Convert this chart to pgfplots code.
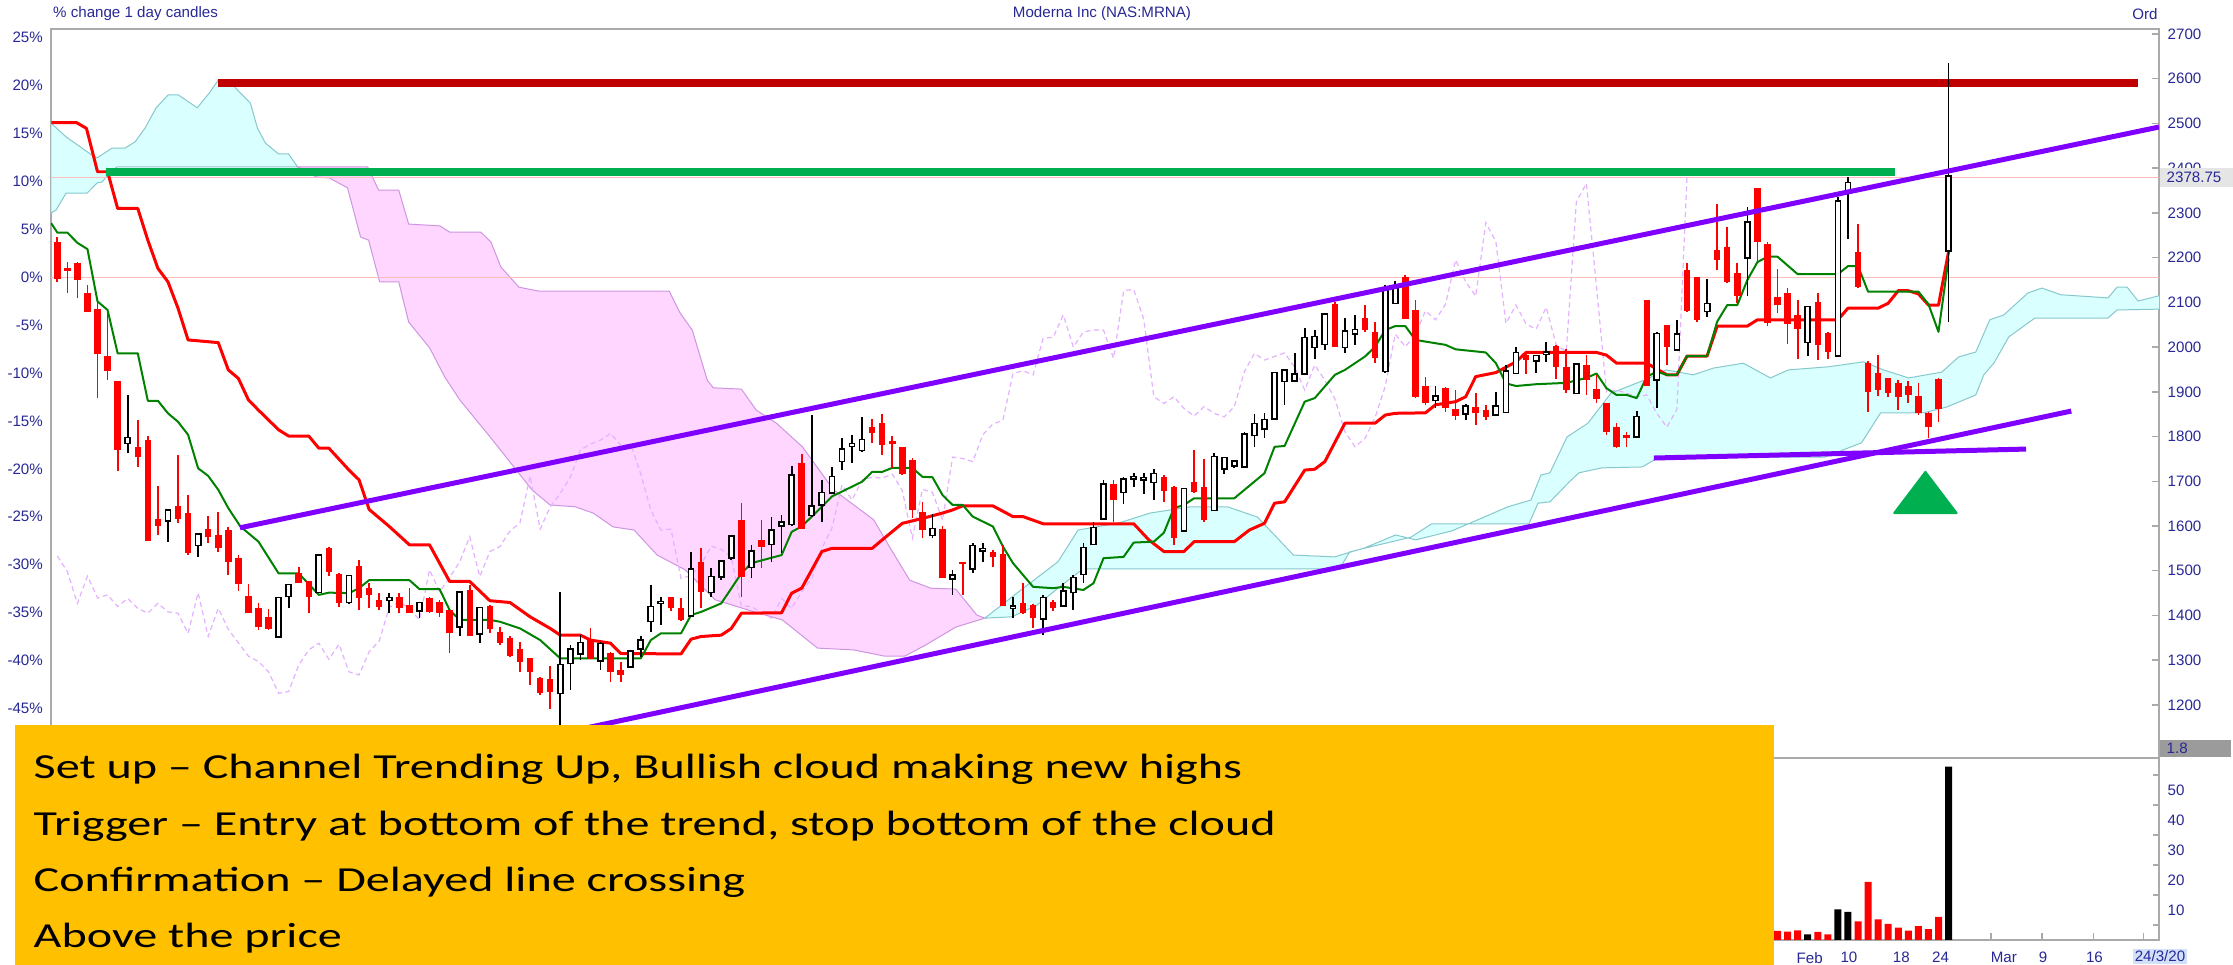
\documentclass[border=0pt]{standalone}
\usepackage{fontspec}
\setmainfont{Liberation Sans}
\newfontfamily\carlito{Carlito}
\usepackage{graphicx}
\usepackage{pgfplots}
\pgfplotsset{compat=1.18}
\usepackage{pgfplotstable}
\definecolor{tickblue}{RGB}{40,40,150}
\definecolor{candlered}{RGB}{255,0,0}
\definecolor{tenkan}{RGB}{0,130,0}
\definecolor{cyanfill}{RGB}{217,255,255}
\definecolor{cyanedge}{RGB}{135,200,205}
\definecolor{pinkfill}{RGB}{255,214,255}
\definecolor{pinkedge}{RGB}{205,150,225}
\definecolor{chikou}{RGB}{228,178,255}
\definecolor{violet}{RGB}{128,0,255}
\definecolor{darkred}{RGB}{192,0,0}
\definecolor{sgreen}{RGB}{0,176,80}
\definecolor{gold}{RGB}{255,192,0}
\definecolor{framegray}{RGB}{170,170,170}
\definecolor{pinkline}{RGB}{255,190,190}
\definecolor{boxgray}{RGB}{155,155,155}
\definecolor{datebox}{RGB}{210,225,250}
\newcommand\tf{\fontsize{4.3}{5}\selectfont}

\pgfplotstableread{
i O H L C
7 1786 1893 1764 1796
11 1613 1637 1565 1634
14 1558 1585 1531 1581
22 1353 1442 1351 1438
23 1444 1470 1416 1467
26 1453 1535 1450 1533
29 1431 1491 1426 1488
33 1435 1450 1405 1438
36 1412 1431 1394 1427
40 1376 1453 1353 1451
42 1360 1420 1339 1416
50 1227 1453 1144 1289
51 1294 1334 1233 1323
52 1315 1356 1300 1338
54 1300 1341 1278 1336
57 1286 1323 1282 1319
58 1327 1353 1308 1343
59 1388 1468 1364 1418
60 1428 1442 1379 1430
63 1401 1543 1399 1502
65 1453 1506 1441 1485
66 1488 1524 1479 1520
67 1530 1580 1524 1576
69 1509 1558 1483 1543
71 1560 1621 1520 1589
72 1602 1625 1539 1607
73 1605 1734 1599 1712
75 1625 1848 1621 1643
76 1649 1703 1610 1673
77 1675 1733 1673 1709
78 1746 1796 1725 1770
79 1779 1804 1740 1783
80 1770 1844 1766 1792
87 1580 1627 1573 1593
89 1483 1502 1446 1489
91 1506 1561 1494 1555
92 1546 1563 1520 1548
95 1418 1442 1394 1420
98 1394 1446 1356 1438
100 1423 1472 1420 1453
101 1453 1491 1412 1483
102 1493 1561 1472 1550
103 1560 1610 1558 1595
104 1617 1703 1613 1692
106 1677 1710 1649 1703
107 1707 1718 1687 1709
108 1705 1718 1672 1707
109 1699 1727 1658 1716
112 1591 1685 1587 1682
115 1636 1764 1634 1754
116 1729 1755 1716 1751
117 1736 1748 1729 1744
118 1734 1811 1733 1804
119 1804 1850 1777 1828
120 1818 1852 1796 1836
121 1841 1945 1839 1941
122 1925 1950 1871 1947
123 1926 1986 1923 1938
124 1941 2042 1940 2020
125 2001 2038 1973 2022
126 2007 2076 1993 2072
128 2001 2064 1987 2034
129 2031 2072 2005 2038
132 1947 2139 1943 2126
133 2099 2148 2098 2129
137 1882 1912 1863 1889
140 1852 1873 1836 1867
143 1850 1900 1848 1867
144 1856 1960 1853 1945
145 1943 2001 1941 1986
147 1971 1980 1943 1979
148 1985 2012 1967 1987
151 1898 1964 1897 1960
157 1801 1858 1796 1843
159 1928 2034 1863 2029
161 1995 2061 1994 2027
164 2081 2152 2068 2096
168 2201 2314 2114 2278
174 2012 2090 1979 2089
177 1982 2336 1980 2325
178 2351 2381 2241 2366
188 2216 2636 2057 2381
}\up

\pgfplotstableread{
i O H L C
0 2236 2247 2146 2152
1 2177 2191 2120 2170
2 2189 2191 2109 2150
3 2122 2139 2078 2078
4 2085 2101 1886 1985
5 1980 2076 1926 1947
6 1925 1925 1724 1770
8 1776 1836 1733 1754
9 1792 1801 1567 1567
10 1615 1690 1580 1600
12 1645 1759 1607 1616
13 1630 1669 1535 1539
15 1593 1622 1563 1575
16 1580 1632 1541 1550
17 1591 1597 1490 1519
18 1528 1535 1455 1470
19 1444 1470 1405 1405
20 1417 1427 1368 1375
21 1397 1414 1368 1370
24 1494 1509 1472 1472
25 1476 1478 1405 1441
27 1550 1552 1488 1498
28 1493 1496 1418 1427
30 1511 1524 1412 1439
31 1461 1472 1416 1446
32 1435 1450 1412 1420
34 1442 1450 1405 1416
35 1423 1461 1405 1405
37 1438 1442 1405 1408
38 1429 1435 1396 1405
39 1412 1416 1315 1360
41 1457 1468 1353 1353
43 1421 1423 1360 1369
44 1364 1375 1334 1339
45 1349 1353 1308 1309
46 1324 1341 1274 1297
47 1304 1304 1245 1274
48 1261 1263 1222 1226
49 1257 1286 1192 1230
53 1347 1371 1302 1302
55 1315 1319 1252 1274
56 1278 1297 1252 1267
61 1441 1442 1410 1416
62 1416 1438 1388 1390
64 1520 1550 1416 1453
68 1613 1651 1442 1487
70 1569 1613 1506 1554
74 1740 1761 1593 1593
81 1821 1839 1785 1807
82 1830 1850 1759 1781
83 1789 1801 1729 1783
84 1776 1777 1714 1716
85 1748 1751 1617 1636
86 1632 1654 1573 1591
88 1593 1599 1483 1483
90 1519 1520 1446 1514
93 1543 1546 1509 1531
94 1537 1558 1421 1421
96 1427 1472 1403 1406
97 1423 1425 1371 1394
99 1431 1435 1409 1416
105 1695 1703 1610 1658
110 1709 1714 1654 1679
111 1687 1690 1558 1573
113 1699 1770 1673 1675
114 1687 1749 1610 1613
127 2096 2101 2000 2000
130 2064 2094 2034 2038
131 2034 2055 1964 1975
134 2157 2161 2062 2062
135 2083 2105 1886 1889
136 1912 1934 1871 1874
138 1908 1910 1856 1863
139 1861 1904 1836 1846
141 1865 1898 1826 1852
142 1859 1871 1836 1844
146 1982 1986 1940 1971
149 2003 2005 1928 1955
150 1956 1995 1898 1904
152 1960 1982 1893 1926
153 1906 1938 1875 1884
154 1874 1876 1804 1811
155 1822 1831 1774 1777
156 1804 1811 1777 1796
158 2105 2105 1912 1912
160 2049 2049 1960 2001
162 2172 2189 2079 2081
163 2156 2156 2057 2061
165 2216 2321 2172 2195
166 2223 2268 2143 2146
167 2166 2189 2098 2114
169 2355 2355 2189 2236
170 2230 2236 2047 2053
171 2111 2174 2076 2094
172 2120 2131 2008 2052
173 2072 2105 1973 2040
175 2101 2120 1971 2005
176 2031 2034 1973 1990
179 2213 2275 2131 2135
180 1965 1970 1856 1900
181 1943 1982 1891 1904
182 1930 1932 1888 1897
183 1920 1926 1859 1889
184 1913 1925 1876 1893
185 1891 1919 1848 1852
186 1853 1856 1796 1821
187 1928 1930 1833 1861
}\down

\pgfplotstableread{
x y
0 1533
1 1498
2 1427
3 1488
4 1439
5 1446
6 1420
7 1438
8 1416
9 1405
10 1427
11 1408
12 1405
13 1360
14 1451
15 1353
16 1416
17 1369
18 1339
19 1309
20 1297
21 1274
22 1226
23 1230
24 1289
25 1323
26 1338
27 1302
28 1336
29 1274
30 1267
31 1319
32 1343
33 1418
34 1430
35 1416
36 1390
37 1502
38 1453
39 1485
40 1520
41 1576
42 1487
43 1543
44 1554
45 1589
46 1607
47 1712
48 1593
49 1643
50 1673
51 1709
52 1770
53 1783
54 1792
55 1807
56 1781
57 1783
58 1716
59 1636
60 1591
61 1593
62 1483
63 1489
64 1514
65 1555
66 1548
67 1531
68 1421
69 1420
70 1406
71 1394
72 1438
73 1416
74 1453
75 1483
76 1550
77 1595
78 1692
79 1658
80 1703
81 1709
82 1707
83 1716
84 1679
85 1573
86 1682
87 1675
88 1613
89 1754
90 1751
91 1744
92 1804
93 1828
94 1836
95 1941
96 1947
97 1938
98 2020
99 2022
100 2072
101 2000
102 2034
103 2038
104 2038
105 1975
106 2126
107 2129
108 2062
109 1889
110 1874
111 1889
112 1863
113 1846
114 1867
115 1852
116 1844
117 1867
118 1945
119 1986
120 1971
121 1979
122 1987
123 1955
124 1904
125 1960
126 1926
127 1884
128 1811
129 1777
130 1796
131 1843
132 1912
133 2029
134 2001
135 2027
136 2081
137 2061
138 2096
139 2195
140 2146
141 2114
142 2278
143 2236
144 2053
145 2094
146 2052
147 2040
148 2089
149 2005
150 1990
151 2325
152 2366
153 2135
154 1900
155 1904
156 1897
157 1889
158 1893
159 1852
160 1821
161 1861
162 2381
}\chik

\pgfplotstableread{
i v
171 3.0
172 2.8
173 3.2
175 2.7
176 1.9
179 6.2
180 19.4
181 6.9
182 5.4
183 4.1
184 3.1
185 4.6
186 3.6
187 7.7
}\voldown

\pgfplotstableread{
i v
174 1.9
177 10.2
178 9.4
188 57.8
}\volup

\begin{document}
\begin{tikzpicture}[x=1cm,y=1cm]
\fill[white] (0,0) rectangle (22.33,9.65);
\path[use as bounding box] (0,0) rectangle (22.33,9.65);

% percent scale (left)
\begin{axis}[at={(0.51cm,2.07cm)}, anchor=south west, scale only axis,
  width=21.08cm, height=7.29cm, xmin=-0.626, xmax=208.92,
  ymin=-50.18, ymax=25.92, hide x axis, axis y line*=left,
  y axis line style={draw=none}, ytick style={draw=none},
  ytick={-45,-40,-35,-30,-25,-20,-15,-10,-5,0,5,10,15,20,25},
  yticklabels={-45\%,-40\%,-35\%,-30\%,-25\%,-20\%,-15\%,-10\%,-5\%,0\%,5\%,10\%,15\%,20\%,25\%},
  yticklabel style={font=\tf, text=tickblue, anchor=east, inner sep=0pt, xshift=-0.075cm}]
\end{axis}

% price panel
\begin{axis}[at={(0.51cm,2.07cm)}, anchor=south west, scale only axis,
  width=21.08cm, height=7.29cm, xmin=-0.626, xmax=208.92,
  ymin=1081.4, ymax=2711.2,
  axis line style={draw=framegray, line width=0.02cm},
  xtick=\empty, ytick={1200,1300,...,2700}, ytick pos=right,
  tick align=inside, major tick length=0.07cm,
  ytick style={draw=framegray, line width=0.015cm},
  yticklabel style={font=\tf, text=tickblue, anchor=west, inner sep=0pt, xshift=0.08cm,
    /pgf/number format/1000 sep={}, /pgf/number format/assume math mode=true}]

% cloud
\addplot[fill=cyanfill, draw=cyanedge, line width=0.01cm] coordinates {
(-0.63,2501) (0.87,2470) (3.46,2429) (3.96,2423) (5.45,2445) (6.74,2445) (7.74,2459) (8.73,2490) (9.83,2535) (11.03,2564) (12.02,2564) (13.91,2535) (15.11,2568) (16.0,2597) (17.0,2597) (18.2,2568) (19.19,2546) (19.89,2490) (20.69,2456) (21.98,2432) (22.98,2432) (23.88,2403) (5.96,2403) (5.25,2391) (4.45,2369) (3.96,2367) (2.96,2344) (0.87,2344) (-0.13,2306) (-0.63,2300)} -- cycle;
\addplot[fill=pinkfill, draw=pinkedge, line width=0.01cm] coordinates {
(23.88,2403) (30.85,2403) (31.94,2351) (33.94,2351) (34.93,2275) (38.02,2271) (39.01,2257) (42.1,2257) (43.1,2235) (44.1,2179) (45.89,2134) (47.88,2125) (60.83,2125) (61.92,2076) (63.12,2038) (64.61,1926) (65.21,1909) (68.0,1906) (69.49,1859) (71.48,1830) (74.07,1777) (77.16,1681) (81.15,1614) (82.74,1553) (84.73,1479) (86.82,1461) (89.31,1459) (91.4,1401) (92.2,1394) (89.31,1374) (86.33,1334) (84.24,1309) (82.25,1309) (79.16,1323) (75.57,1327) (72.08,1390) (69.0,1410) (65.4,1435) (62.42,1502) (59.63,1535) (57.34,1591) (55.25,1598) (53.26,1629) (51.47,1643) (48.98,1647) (47.18,1681) (43.1,1797) (40.01,1882) (38.52,1933) (37.02,1998) (34.93,2056) (33.94,2146) (32.04,2146) (30.95,2239) (30.15,2246) (28.85,2356) (27.06,2378) (25.77,2380)} -- cycle;
\addplot[fill=cyanfill, draw=cyanedge, line width=0.01cm] coordinates {
(92.2,1394) (95.39,1450) (99.47,1520) (101.47,1591) (105.55,1607) (108.64,1629) (112.72,1643) (116.31,1643) (119.3,1620) (122.88,1535) (126.96,1531) (129.95,1551) (133.04,1580) (135.03,1569) (138.62,1589) (141.21,1614) (144.2,1643) (146.49,1658) (147.48,1714) (148.38,1719) (150.07,1799) (152.16,1830) (154.45,1897) (157.74,1926) (159.93,1949) (162.62,1938) (164.61,1953) (167.6,1964) (170.29,1931) (172.08,1949) (176.06,1956) (179.55,1967) (181.54,1949) (184.03,1931) (187.32,1944) (189.01,1978) (190.71,1989) (192.1,2061) (193.5,2072) (195.89,2121) (197.28,2132) (199.17,2117) (203.86,2110) (204.75,2134) (205.75,2134) (206.84,2103) (209.33,2117)
(209.33,2085) (204.75,2083) (203.86,2065) (196.59,2065) (194.0,2023) (192.5,1964) (191.5,1938) (190.71,1893) (187.82,1866) (185.53,1853) (181.25,1853) (179.35,1786) (175.67,1754) (159.24,1754) (157.54,1732) (153.56,1730) (151.27,1719) (150.27,1698) (148.38,1654) (147.19,1651) (146.29,1605) (136.63,1605) (134.54,1575) (130.45,1553) (128.46,1542) (127.46,1504) (101.96,1504) (99.87,1468) (97.38,1423) (94.89,1397)} -- cycle;

% reference lines
\addplot[pinkline, line width=0.015cm] coordinates {(-0.63,2156) (209.33,2156)};
\addplot[pinkline, line width=0.015cm] coordinates {(-0.63,2378.75) (209.33,2378.75)};

% lagging line
\addplot[chikou, line width=0.012cm, dash pattern=on 0.05cm off 0.035cm] table[x=x,y=y] {\chik};

% kijun and tenkan
\addplot[candlered, line width=0.03cm, line join=round] coordinates {
(-0.6,2502) (1.9,2502) (2.9,2489) (4,2392) (5,2392) (6,2310) (8,2310) (9,2239) (10,2176) (11,2146) (12,2087) (13,2016) (16,2010) (17,1949) (18,1930) (19,1882) (20,1859) (22,1815) (23,1801) (25,1801) (26,1774) (27,1774) (29,1725) (30,1703) (31,1637) (33,1599) (35,1558) (37,1558) (39,1476) (41,1476) (43,1433) (45,1429) (47,1397) (49,1371) (50,1356) (52,1356) (53,1345) (55,1338) (56,1315) (62,1314) (63,1347) (64,1353) (66,1356) (67,1371) (68,1405) (72,1406) (73,1450) (74,1461) (76,1543) (77,1550) (81,1550) (82,1569) (84,1606) (86,1617) (88,1629) (89,1636) (90,1645) (93,1645) (95,1621) (96,1621) (98,1605) (107,1605) (108.5,1569) (110,1543) (112,1543) (113,1565) (117,1565) (118.5,1591) (120,1606) (121,1651) (122,1654) (124,1725) (125,1727) (126,1744) (128,1830) (131,1830) (132,1848) (133,1852) (136,1853) (137,1871) (139,1878) (140,1889) (141,1934) (143,1943) (145,1967) (146,1988) (153,1988) (154,1982) (155,1964) (158,1964) (160,1938) (161,1938) (162,1980) (164,1980) (165,2047) (168,2047) (169,2061) (177,2061) (178,2087) (181,2087) (182,2098) (183,2126) (184,2126) (185,2119) (186,2094) (187,2094) (188,2213)};
\addplot[tenkan, line width=0.02cm, line join=round] coordinates {
(-0.6,2277) (0,2256) (1,2256) (2,2233) (3,2219) (4,2102) (5,2083) (6,1986) (8,1986) (9,1880) (10,1880) (11,1852) (12,1833) (13,1804) (14,1729) (15,1712) (16,1681) (17,1640) (18.2,1599) (20,1565) (22,1494) (24,1494) (26,1446) (27,1451) (29,1450) (30,1461) (31,1479) (35,1479) (36,1459) (38,1459) (39,1412) (40,1390) (43,1390) (44,1386) (46,1371) (48,1345) (50,1304) (58,1304) (59,1345) (60,1360) (62,1360) (63,1401) (64,1408) (66,1427) (68,1494) (69,1517) (72,1535) (73,1587) (74,1599) (76,1643) (77,1666) (78,1677) (80,1699) (81,1721) (82,1721) (83,1730) (85,1730) (86,1710) (87,1709) (88,1669) (89,1647) (90,1647) (91,1621) (93,1599) (94,1554) (95,1517) (97,1464) (99,1461) (100,1464) (102,1457) (103,1472) (104,1528) (106,1531) (107,1563) (109,1565) (110,1585) (111,1640) (112,1647) (113,1662) (117,1662) (120,1718) (121,1777) (122,1779) (124,1878) (125,1886) (127,1938) (128,1949) (130,1979) (131,2001) (132,2038) (133,2047) (134,2047) (135,2016) (138,2005) (139,1995) (142,1988) (143,1964) (144,1919) (145,1913) (147,1917) (150,1920) (152,1931) (153,1941) (154,1908) (155,1893) (156,1893) (157,1886) (158,1934) (159,1945) (160,1938) (161,1938) (162,1980) (164,1980) (165,2057) (166,2094) (167,2094) (168,2150) (169,2190) (170,2202) (171,2202) (173,2163) (177,2163) (178,2181) (179,2181) (180,2124) (185,2124) (186,2096) (187,2034) (188,2198)};

% thick horizontal levels
\addplot[darkred, line width=0.08cm] coordinates {(16.0,2590) (206.8,2590)};
\addplot[sgreen, line width=0.08cm] coordinates {(4.8,2391.5) (182.7,2391.5)};

% candles: down (red)
\addplot[draw=none, mark=none, error bars/.cd, y dir=both, y explicit, error mark=none,
  error bar style={draw=candlered, solid, line width=0.017cm}]
  table[x=i, y=O, y error plus expr=\thisrow{H}-\thisrow{O}, y error minus expr=\thisrow{O}-\thisrow{L}] {\down};
\addplot[draw=none, mark=none, error bars/.cd, y dir=plus, y explicit, error mark=none,
  error bar style={draw=candlered, solid, line width=0.065cm}]
  table[x=i, y=C, y error plus expr=\thisrow{O}-\thisrow{C}] {\down};
% candles: up (white)
\addplot[draw=none, mark=none, error bars/.cd, y dir=both, y explicit, error mark=none,
  error bar style={draw=black, solid, line width=0.017cm}]
  table[x=i, y=O, y error plus expr=\thisrow{H}-\thisrow{O}, y error minus expr=\thisrow{O}-\thisrow{L}] {\up};
\addplot[draw=none, mark=none, error bars/.cd, y dir=plus, y explicit, error mark=none,
  error bar style={draw=black, solid, line width=0.068cm}]
  table[x=i, y expr=\thisrow{O}-3.4, y error plus expr=\thisrow{C}-\thisrow{O}+6.8] {\up};
\addplot[draw=none, mark=none, error bars/.cd, y dir=plus, y explicit, error mark=none,
  error bar style={draw=white, solid, line width=0.034cm}]
  table[x=i, y=O, y error plus expr=\thisrow{C}-\thisrow{O}] {\up};

% channel lines
\addplot[violet, line width=0.05cm] coordinates {(18.16,1596) (208.92,2492)};
\addplot[violet, line width=0.05cm] coordinates {(49.97,1136) (200.2,1857)};
\addplot[violet, line width=0.05cm] coordinates {(158.7,1752) (195.7,1772)};
\addplot[fill=sgreen, draw=sgreen, line width=0.02cm, line join=round] coordinates {(182.6,1629) (188.8,1629) (185.7,1721)} -- cycle;
\end{axis}

% volume panel
\begin{axis}[at={(0.51cm,0.25cm)}, anchor=south west, scale only axis,
  width=21.08cm, height=1.82cm, xmin=-0.626, xmax=208.92, ymin=0, ymax=60.67,
  axis line style={draw=framegray, line width=0.02cm},
  ytick={10,20,30,40,50}, ytick pos=right, minor ytick={5,15,25,35,45,55},
  tick align=inside, major tick length=0pt, minor tick length=0.06cm,
  minor tick style={draw=framegray, line width=0.015cm},
  yticklabel style={font=\tf, text=tickblue, anchor=west, inner sep=0pt, xshift=0.08cm,
    /pgf/number format/assume math mode=true},
  xtick={174.2,178.1,183.3,187.2,193.5,197.4,202.5},
  xticklabels={Feb,10,18,24,Mar,9,16}, xtick pos=bottom,
  xticklabel style={font=\tf, text=tickblue, anchor=north, inner sep=0pt, yshift=-0.115cm},
  extra x ticks={192.2,197.3,202.4,207.4}, extra x tick labels={},
  extra x tick style={major tick length=0.07cm, tick style={draw=framegray, line width=0.015cm}}]
\addplot[ybar, bar width=0.07cm, bar shift=0pt, fill=candlered, draw=none] table[x=i,y=v] {\voldown};
\addplot[ybar, bar width=0.07cm, bar shift=0pt, fill=black, draw=none] table[x=i,y=v] {\volup};
\end{axis}

% header texts and value boxes
\node[anchor=west, text=tickblue, font=\tf, inner sep=0pt] at (0.525,9.51) {\% change 1 day candles};
\node[text=tickblue, font=\tf, inner sep=0pt] at (11.02,9.51) {Moderna Inc (NAS:MRNA)};
\node[text=tickblue, font=\tf, inner sep=0pt] at (21.45,9.51) {Ord};
\fill[black!10] (21.60,7.78) rectangle (22.33,7.97);
\node[anchor=west, text=tickblue, font=\tf, inner sep=0pt] at (21.66,7.875) {2378.75};
\fill[boxgray] (21.60,2.08) rectangle (22.31,2.25);
\node[anchor=west, text=tickblue, font=\tf, inner sep=0pt] at (21.66,2.165) {1.8};
\node[fill=datebox, text=tickblue, font=\tf, inner sep=0.02cm] at (21.60,0.085) {24/3/20};

% annotation box
\fill[gold] (0.15,0) rectangle (17.74,2.40);
\begin{scope}[every node/.style={anchor=base west, inner sep=0pt, font=\carlito\fontsize{10}{11}\selectfont}]
\node at (0.33,1.86) {\scalebox{1.37}[1]{Set up – Channel Trending Up, Bullish cloud making new highs}};
\node at (0.33,1.29) {\scalebox{1.37}[1]{Trigger – Entry at bottom of the trend, stop bottom of the cloud}};
\node at (0.33,0.73) {\scalebox{1.37}[1]{Confirmation – Delayed line crossing}};
\node at (0.33,0.17) {\scalebox{1.37}[1]{Above the price}};
\end{scope}
\end{tikzpicture}
\end{document}
